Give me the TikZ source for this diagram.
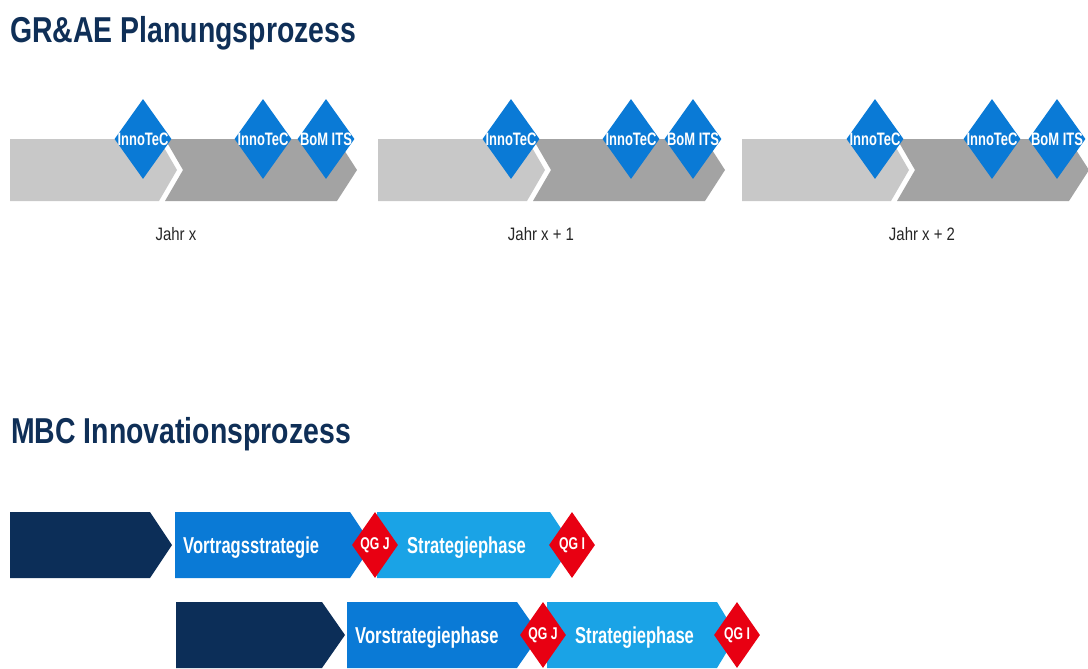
\documentclass[tikz,border=0pt]{standalone}
\usepackage{fontspec}
\setmainfont{Liberation Sans}
\newfontfamily\condfont[FakeStretch=0.83]{Liberation Sans}
\newfontfamily\headfont[FakeStretch=0.79]{Liberation Sans}
\newfontfamily\narrowfont[FakeStretch=0.72]{Liberation Sans}
\usetikzlibrary{shapes.geometric}

\definecolor{navy}{RGB}{12,46,88}
\definecolor{headcol}{RGB}{15,47,87}
\definecolor{boschblue}{RGB}{10,122,214}
\definecolor{skyblue}{RGB}{26,163,230}
\definecolor{gatered}{RGB}{232,0,18}
\definecolor{lightbar}{RGB}{200,200,200}
\definecolor{darkbar}{RGB}{163,163,163}

\tikzset{
  milestone/.style={diamond, fill=boschblue, minimum width=57pt, minimum height=80pt,
    inner sep=0pt, text=white, font=\narrowfont\bfseries\fontsize{18}{20}\selectfont},
  gate/.style={diamond, fill=gatered, minimum width=46pt, minimum height=66pt,
    inner sep=0pt, text=white, font=\narrowfont\bfseries\fontsize{17}{19}\selectfont},
  phase/.style={anchor=base west, inner sep=0pt, text=white,
    font=\narrowfont\bfseries\fontsize{23}{27}\selectfont},
  heading/.style={anchor=base west, inner sep=0pt, text=headcol,
    font=\headfont\bfseries\fontsize{36}{42}\selectfont},
  yearlabel/.style={anchor=base, inner sep=0pt, text=black!85,
    font=\condfont\fontsize{18}{22}\selectfont}
}
\newcommand{\nowide}[1]{\makebox[0pt]{#1}}

\begin{document}
\begin{tikzpicture}[x=1pt,y=-1pt]
	\useasboundingbox (0,0) rectangle (1088,669);

	\node[heading] (titleplan) at (10,43) {GR\&AE Planungsprozess};
	\node[heading] (titleinno) at (11,443) {MBC Innovationsprozess};

	\begin{scope}[xshift=0pt]
	\fill[lightbar] (10,139) -- (159,139) -- (177,170) -- (159,201) -- (10,201) -- cycle;%jahr x hell
	\fill[darkbar] (165,139) -- (337,139) -- (357,170) -- (337,201) -- (165,201) -- (183,170) -- cycle;%jahr x dunkel
	\node[milestone] (innoA1) at (143,139) {\nowide{InnoTeC}};
	\node[milestone] (innoB1) at (263,139) {\nowide{InnoTeC}};
	\node[milestone] (bom1) at (326,139) {\nowide{BoM ITS}};
	\end{scope}

	\begin{scope}[xshift=368pt]
	\fill[lightbar] (10,139) -- (159,139) -- (177,170) -- (159,201) -- (10,201) -- cycle;%jahr x+1 hell
	\fill[darkbar] (165,139) -- (337,139) -- (357,170) -- (337,201) -- (165,201) -- (183,170) -- cycle;%jahr x+1 dunkel
	\node[milestone] (innoA2) at (143,139) {\nowide{InnoTeC}};
	\node[milestone] (innoB2) at (263,139) {\nowide{InnoTeC}};
	\node[milestone] (bom2) at (325,139) {\nowide{BoM ITS}};
	\end{scope}

	\begin{scope}[xshift=732pt]
	\fill[lightbar] (10,139) -- (159,139) -- (177,170) -- (159,201) -- (10,201) -- cycle;%jahr x+2 hell
	\fill[darkbar] (165,139) -- (337,139) -- (357,170) -- (337,201) -- (165,201) -- (183,170) -- cycle;%jahr x+2 dunkel
	\node[milestone] (innoA3) at (143,139) {\nowide{InnoTeC}};
	\node[milestone] (innoB3) at (260,139) {\nowide{InnoTeC}};
	\node[milestone] (bom3) at (325,139) {\nowide{BoM ITS}};
	\end{scope}

	\node[yearlabel] (year0) at (176,240) {Jahr x};
	\node[yearlabel] (year1) at (541,240) {Jahr x + 1};
	\node[yearlabel] (year2) at (922,240) {Jahr x + 2};

	%erste reihe
	\fill[navy] (10,512) -- (150,512) -- (172,545) -- (150,578) -- (10,578) -- cycle;
	\fill[boschblue] (175,512) -- (350,512) -- (372,545) -- (350,578) -- (175,578) -- cycle;
	\fill[skyblue] (377,512) -- (550,512) -- (572,545) -- (550,578) -- (377,578) -- cycle;
	\node[phase] (vortrag) at (183,553) {Vortragsstrategie};
	\node[phase] (strat1) at (407,553) {Strategiephase};
	\node[gate] (qgj1) at (375,545) {\nowide{QG J}};
	\node[gate] (qgi1) at (572,545) {\nowide{QG I}};

	%zweite reihe
	\fill[navy] (176,602) -- (322,602) -- (345,635) -- (322,668) -- (176,668) -- cycle;
	\fill[boschblue] (347,602) -- (517,602) -- (540,635) -- (517,668) -- (347,668) -- cycle;
	\fill[skyblue] (547,602) -- (717,602) -- (737,635) -- (717,668) -- (547,668) -- cycle;
	\node[phase] (vorstrat) at (355,643) {Vorstrategiephase};
	\node[phase] (strat2) at (575,643) {Strategiephase};
	\node[gate] (qgj2) at (543,635) {\nowide{QG J}};
	\node[gate] (qgi2) at (737,635) {\nowide{QG I}};

\end{tikzpicture}
\end{document}
